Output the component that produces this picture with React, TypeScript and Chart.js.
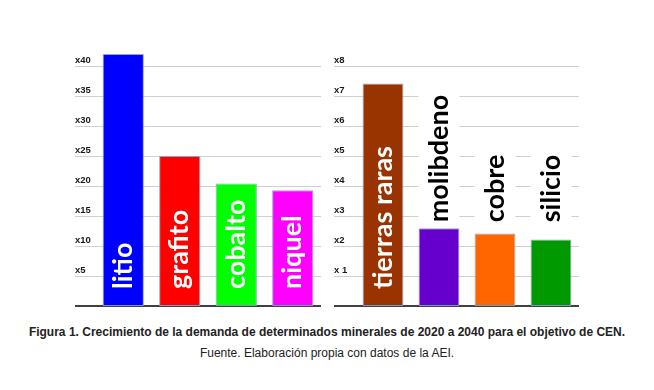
import React, { useEffect, useRef } from 'react';
import { Chart, registerables } from 'chart.js';

Chart.register(...registerables);

const leftCategories = ['litio', 'grafito', 'cobalto', 'niquel'];
const leftValues = [42, 25, 20.4, 19.3];
const leftColors = ['#0000FF', '#FF0000', '#00FF00', '#FF00FF'];
const leftTickValues = [0, 5, 10, 15, 20, 25, 30, 35, 40];
const leftTickLabels = ['', 'x5', 'x10', 'x15', 'x20', 'x25', 'x30', 'x35', 'x40'];
const leftMax = 44;

const rightCategories = ['tierras raras', 'molibdeno', 'cobre', 'silicio'];
const rightValues = [7.42, 2.59, 2.42, 2.22];
const rightColors = ['#993300', '#6600CC', '#FF6600', '#009900'];
const rightTickValues = [0, 1, 2, 3, 4, 5, 6, 7, 8];
const rightTickLabels = ['', 'x 1', 'x2', 'x3', 'x4', 'x5', 'x6', 'x7', 'x8'];
const rightMax = 8.4;

const captionTitle =
  'Figura 1. Crecimiento de la demanda de determinados minerales de 2020 a 2040 para el objetivo de CEN.';
const captionSource = 'Fuente. Elaboración propia con datos de la AEI.';

const LABEL_FONT = 'bold 27px Lato';
const GRID_COLOR = '#d0d0d0';
const BASE_COLOR = '#404040';

const gridExtensionPlugin = {
  id: 'gridExtension',
  beforeDatasetsDraw(chart: any) {
    const ctx = chart.ctx as CanvasRenderingContext2D;
    const yScale = chart.scales.y;
    const area = chart.chartArea;
    ctx.save();
    yScale.ticks.forEach((t: any) => {
      const y = yScale.getPixelForValue(t.value);
      const isBase = t.value === 0;
      ctx.strokeStyle = isBase ? BASE_COLOR : GRID_COLOR;
      ctx.lineWidth = isBase ? 2 : 1;
      const yy = isBase ? Math.round(y) : Math.round(y) + 0.5;
      ctx.beginPath();
      ctx.moveTo(yScale.left, yy);
      ctx.lineTo(area.right, yy);
      ctx.stroke();
    });
    ctx.restore();
  },
};

const barLabelPlugin = {
  id: 'barLabels',
  afterDatasetsDraw(chart: any) {
    const ctx = chart.ctx as CanvasRenderingContext2D;
    const meta = chart.getDatasetMeta(0);
    const yScale = chart.scales.y;
    const base = yScale.getPixelForValue(0);
    const names = chart.data.labels as string[];
    ctx.save();
    ctx.font = LABEL_FONT;
    const items = meta.data.map((bar: any, i: number) => {
      const w = ctx.measureText(names[i]).width;
      const inside = base - bar.y > w + 17 + 8;
      return { bar, w, inside, name: names[i] };
    });
    const outs = items.filter((o: any) => !o.inside);
    const outsideStart = outs.length ? Math.min(...outs.map((o: any) => o.bar.y)) - 6 : 0;
    items.forEach((o: any) => {
      const { bar, w, inside, name } = o;
      const props = bar.getProps(['x', 'y', 'width'], true);
      let startY: number;
      if (inside) {
        ctx.fillStyle = '#FFFFFF';
        startY = base - 17;
      } else {
        ctx.fillStyle = '#FFFFFF';
        const top = outsideStart - w - 3;
        ctx.fillRect(props.x - props.width / 2, top, props.width, props.y - top - 1);
        ctx.fillStyle = '#000000';
        startY = outsideStart;
      }
      ctx.save();
      ctx.translate(props.x, startY);
      ctx.rotate(-Math.PI / 2);
      ctx.textAlign = 'left';
      ctx.textBaseline = 'middle';
      ctx.fillText(name, 0, 0);
      ctx.restore();
    });
    ctx.restore();
  },
};

type BarProps = {
  categories: string[];
  values: number[];
  colors: string[];
  tickValues: number[];
  tickLabels: string[];
  max: number;
  padTop: number;
  axisWidth: number;
  left: number;
  width: number;
};

function BarPanel(p: BarProps) {
  const ref = useRef<HTMLCanvasElement>(null);
  useEffect(() => {
    if (!ref.current) return;
    const chart = new Chart(ref.current, {
      type: 'bar',
      data: {
        labels: p.categories,
        datasets: [
          {
            data: p.values,
            backgroundColor: p.colors,
            borderColor: 'rgba(130,160,195,0.9)',
            borderWidth: 1,
            borderSkipped: false,
            barPercentage: 0.73,
            categoryPercentage: 1,
          },
        ],
      },
      options: {
        responsive: false,
        maintainAspectRatio: false,
        animation: false,
        layout: { padding: { top: p.padTop, bottom: 2, left: 0, right: 0 } },
        plugins: { legend: { display: false }, tooltip: { enabled: false } },
        scales: {
          x: { display: false },
          y: {
            min: 0,
            max: p.max,
            afterBuildTicks: (s: any) => {
              s.ticks = p.tickValues.map((v) => ({ value: v }));
            },
            afterFit: (s: any) => {
              s.width = p.axisWidth;
              s.paddingTop = 0;
              s.paddingBottom = 0;
              s.paddingLeft = 0;
              s.paddingRight = 0;
            },
            border: { display: false },
            grid: { display: false },
            ticks: {
              callback: (v: any) => p.tickLabels[p.tickValues.indexOf(Number(v))] ?? '',
              crossAlign: 'far',
              labelOffset: -6,
              padding: 0,
              font: { family: '"Liberation Sans", Arial, sans-serif', weight: 'bold', size: 9.5 },
              color: '#1a1a1a',
            },
          },
        },
      },
      plugins: [gridExtensionPlugin, barLabelPlugin],
    } as any);
    return () => chart.destroy();
  }, []);
  return (
    <canvas
      ref={ref}
      width={p.width}
      height={268}
      style={{ position: 'absolute', left: p.left, top: 40, width: p.width, height: 268 }}
    />
  );
}

export default function App() {
  return (
    <div
      style={{
        position: 'absolute',
        left: 0,
        top: 0,
        width: 654,
        height: 390,
        background: '#FFFFFF',
        overflow: 'hidden',
      }}
    >
      <BarPanel
        categories={leftCategories}
        values={leftValues}
        colors={leftColors}
        tickValues={leftTickValues}
        tickLabels={leftTickLabels}
        max={leftMax}
        padTop={2}
        axisWidth={20}
        left={75}
        width={246}
      />
      <BarPanel
        categories={rightCategories}
        values={rightValues}
        colors={rightColors}
        tickValues={rightTickValues}
        tickLabels={rightTickLabels}
        max={rightMax}
        padTop={14}
        axisWidth={21}
        left={334}
        width={245}
      />
      <div
        style={{
          position: 'absolute',
          left: 0,
          top: 325,
          width: 654,
          textAlign: 'center',
          fontFamily: '"Liberation Sans", Arial, sans-serif',
          fontWeight: 'bold',
          fontSize: 12,
          lineHeight: '15px',
          color: '#222',
          whiteSpace: 'nowrap',
        }}
      >
        {captionTitle}
      </div>
      <div
        style={{
          position: 'absolute',
          left: 0,
          top: 346,
          width: 654,
          textAlign: 'center',
          fontFamily: '"Liberation Sans", Arial, sans-serif',
          fontSize: 12,
          lineHeight: '15px',
          color: '#222',
          whiteSpace: 'nowrap',
        }}
      >
        {captionSource}
      </div>
    </div>
  );
}
